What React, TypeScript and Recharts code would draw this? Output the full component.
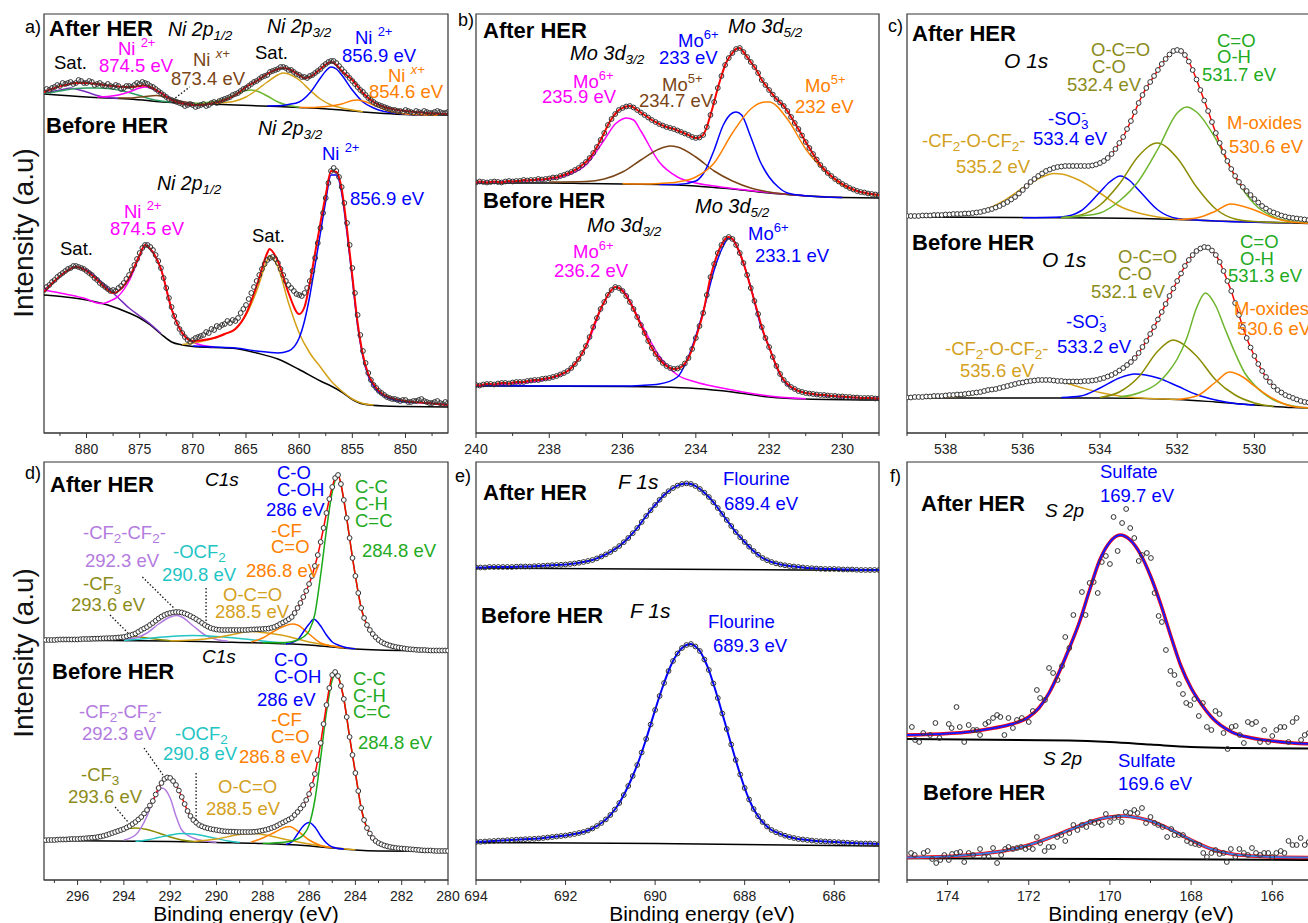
import React from 'react';
import { ComposedChart, Line, XAxis, YAxis, ReferenceArea, ReferenceLine } from 'recharts';

const FONT = '"Liberation Sans", Arial, Helvetica, sans-serif';
const RED = '#ff0000', BLUE = '#0000ff', MAG = '#ff00ff', BROWN = '#7a4516', GOLD = '#d4a017', ORANGE = '#ff8000',
  OLIVE = '#8b8b00', GREEN = '#1aaa1a', LGREEN = '#6db52c', TEAL = '#2e9e62', PURPLE = '#7a2ec0', LAV = '#b37be0',
  CYAN = '#22c4c4', BLACK = '#000000', GOLDL = '#d4a020', OLIVEL = '#8b8b1a', GREENL = '#22aa22';

type P = { x: number; y: number };
const pairs = (a: number[][]): P[] => a.map(([x, y]) => ({ x, y }));
const grid = (start: number, step: number, v: number[]): P[] =>
  v.map((y, i) => ({ x: Math.round((start + i * step) * 1000) / 1000, y }));

// ---------------- Panel a : Ni 2p (measured points every 0.25 eV from 884 eV) ----------------
const aTicks = [847.5, 850, 852.5, 855, 857.5, 860, 862.5, 865, 867.5, 870, 872.5, 875, 877.5, 880, 882.5];
const aMajors = [850, 855, 860, 865, 870, 875, 880];
const aAftObs = [
  341, 344, 343, 345, 346, 348, 347, 350, 349, 350,
  351, 349, 350, 353, 352, 350, 350, 352, 351, 348,
  349, 350, 348, 347, 349, 347, 346, 348, 347, 344,
  345, 347, 347, 346, 348, 350, 349, 351, 350, 349,
  347, 346, 344, 342, 340, 338, 336, 334, 333, 332,
  331, 330, 329, 327, 328, 329, 328, 326, 327, 328,
  329, 327, 328, 330, 331, 330, 332, 333, 334, 335,
  336, 338, 339, 340, 342, 344, 345, 347, 349, 351,
  352, 354, 356, 357, 358, 361, 362, 363, 364, 366,
  366, 365, 363, 363, 361, 359, 358, 356, 356, 355,
  357, 358, 360, 362, 364, 367, 369, 371, 372, 372,
  370, 367, 364, 361, 358, 355, 352, 349, 346, 343,
  341, 338, 335, 333, 331, 329, 328, 327, 326, 325,
  324, 323, 323, 322, 322, 321, 323, 322, 321, 320,
  322, 321, 320, 322, 321, 320, 320, 321, 322, 321,
  320, 320, 321];
const aBefObs = [
  143, 146, 148, 151, 153, 156, 158, 160, 162, 164,
  165, 167, 167, 166, 165, 164, 162, 160, 158, 155,
  153, 150, 148, 146, 144, 142, 143, 142, 145, 147,
  150, 154, 158, 163, 168, 174, 180, 185, 188, 188,
  186, 183, 178, 172, 165, 155, 145, 135, 126, 117,
  110, 104, 100, 96, 93, 91, 93, 95, 96, 97,
  98, 101, 100, 104, 103, 107, 106, 108, 109, 112,
  110, 113, 112, 115, 120, 124, 128, 134, 140, 146,
  152, 158, 164, 169, 173, 175, 176, 174, 170, 164,
  158, 152, 148, 145, 142, 139, 138, 137, 140, 145,
  152, 162, 175, 190, 205, 220, 235, 250, 262, 265,
  262, 256, 246, 230, 210, 188, 165, 140, 118, 98,
  82, 70, 60, 53, 48, 45, 42, 40, 38, 36,
  35, 34, 34, 33, 32, 33, 33, 31, 31, 32,
  32, 33, 34, 32, 31, 30, 30, 31, 32, 30,
  29, 31, 30];
const aAftRed = [[884, 341], [883, 345], [882, 348], [881, 350], [880, 350], [879, 349], [878, 347.5], [877, 346.5], [876, 346], [875, 347], [874.5, 347.5], [874, 346], [873, 340], [872, 333], [871, 329.5], [870, 328], [869, 328], [868, 330], [867, 333], [866, 338], [865, 346], [864, 352], [863, 359], [862, 364], [861.5, 365], [861, 364], [860, 358], [859.5, 355], [859, 356], [858, 364], [857, 371], [856.5, 368], [856, 362], [855, 353], [854, 340], [853, 331], [852, 326], [851, 323.5], [850, 322], [849, 321], [848, 320], [847, 319.5], [846, 319]];
const aAftBg = [[884, 339], [880, 336], [876, 334], [872, 330.5], [870, 329.5], [866, 328], [862, 326.5], [860, 325.5], [858, 324.5], [856, 323], [854, 321], [852, 319.5], [850, 318.5], [846, 318]];
const aAftPurple = [[884, 339.5], [883, 342], [882, 344], [881.5, 345], [881, 344], [880, 341], [879, 337.5], [878, 335.5], [877, 334.8]];
const aAftGreen1 = [[884, 339.5], [883, 341], [882, 343], [881, 344.5], [880, 345], [879, 345], [878, 344.5], [877, 343], [876, 340.5], [875, 337.5], [874, 334], [873, 332], [872, 330.8]];
const aAftMag = [[879, 336], [878, 336.5], [877, 338], [876, 341], [875, 345], [874.5, 346], [874, 345], [873, 340], [872, 334], [871, 331], [870, 329.8]];
const aAftBrown = [[877, 335], [876, 335], [875, 336], [874, 337], [873.4, 337.5], [873, 337], [872, 334], [871, 331.5], [870, 329.8]];
const aAftGreen2 = [[870, 329.5], [869, 330], [868, 331.5], [867, 334], [866, 338.5], [865, 342.5], [864.5, 343], [864, 342], [863, 337], [862, 331], [861, 327.5], [860, 325.8]];
const aAftGold = [[869, 329.2], [868, 329.5], [867, 330.5], [866, 332], [865, 336], [864, 343], [863, 351], [862, 358], [861.5, 360], [861, 359], [860, 353], [859, 343], [858, 334], [857, 328], [856, 325], [855, 323], [854, 321.2]];
const aAftBlue = [[863, 327], [862, 327.2], [861, 328.5], [860, 331], [859, 340], [858, 355], [857.5, 362], [857, 366], [856.5, 364], [856, 358], [855, 343], [854, 331], [853, 325], [852, 321.5], [851, 320], [850, 318.8], [848, 318.3]];
const aAftOrange = [[860, 325.5], [859, 325.5], [858, 326], [857, 327], [856, 329], [855, 332.5], [854.5, 333], [854, 332], [853, 328], [852, 323.5], [851, 320.5], [850, 319], [849, 318.5], [847, 318]];
const aAftLeader = [[871.9, 333], [870.3, 346]];
const aBefRed = [[884, 141], [883, 152], [882, 161], [881, 166], [880, 162], [879, 153], [878, 143], [877.5, 140], [877, 142], [876, 155], [875, 178], [874.5, 188], [874, 184], [873, 164], [872, 124], [871, 100], [870, 92], [869, 93], [868, 95], [867, 99], [866, 104], [865, 119], [864, 147], [863, 180], [862.8, 184], [862, 172], [861, 140], [860, 119], [859.5, 126], [859, 150], [858.5, 180], [858, 210], [857.5, 238], [857, 262], [856.5, 261], [856, 244], [855.5, 204], [855, 157], [854.5, 110], [854, 78], [853.5, 59], [853, 49], [852, 38], [850, 32], [848, 30], [846, 28]];
const aBefBg = [[884, 138], [882, 136], [880, 133], [878, 128], [876, 120], [875, 115], [874, 108], [873, 99], [872, 91], [871, 88], [870, 86.5], [868, 85.5], [866, 84.5], [864, 80], [862, 74], [860, 63.5], [858, 52], [857, 47], [856, 41], [855, 33.5], [854, 29], [852, 27], [850, 26.5], [846, 26]];
const aBefPurple = [[884, 143], [883, 152], [882, 161], [881, 166], [880, 163], [879, 155], [878, 145], [877, 135], [876, 125], [875, 117], [874, 109], [873, 99.5]];
const aBefMag = [[884, 143], [882, 139], [880, 134], [879, 130], [878.5, 129.5], [878, 131], [877, 137], [876, 152], [875, 177], [874.5, 188], [874, 184], [873, 164], [872, 124], [871, 100], [870, 91], [869, 87.5], [868, 86]];
const aBefGold = [[871, 88.5], [870, 90], [869, 92], [868, 95], [867, 99], [866, 104], [865, 118], [864, 142], [863, 173], [862.8, 177], [862, 166], [861, 130], [860, 100], [859, 80], [858, 66], [857, 52], [856, 42], [855, 34], [854, 29.5], [853, 28]];
const aBefBlue = [[870, 87], [868, 86], [866, 85], [864, 82], [862, 80], [861, 82], [860, 95], [859.5, 112], [859, 137], [858.5, 168], [858, 200], [857.5, 232], [857, 258], [856.5, 258], [856, 240], [855.5, 200], [855, 154], [854.5, 107], [854, 76], [853.5, 57], [853, 47], [852, 37], [850, 31], [848, 30], [846, 28]];

// ---------------- Panel b : Mo 3d (measured points every 0.1 eV from 240 eV) ----------------
const bTicks = [229, 230, 231, 232, 233, 234, 235, 236, 237, 238, 239, 240];
const bMajors = [230, 232, 234, 236, 238, 240];
const bAftObs = [
  250.5, 251.5, 251, 250.5, 251, 251.5, 251, 250.5, 251.5, 252,
  251.5, 252, 252, 253, 252.5, 253, 253, 254, 253.5, 254,
  254.5, 255.5, 255.5, 257, 258, 259.5, 261, 263, 265, 268,
  271, 275, 280, 286, 293, 300, 308, 314, 319, 323,
  325, 326.5, 327, 325.5, 323, 320.5, 318, 315.5, 313, 311,
  309, 307.5, 306, 305, 304, 302.5, 301, 299.5, 298, 296,
  295, 295.5, 298, 306, 318, 331, 345, 357, 368, 375,
  380, 384, 385, 381, 376, 371, 366, 360, 353, 348,
  343, 338.5, 334, 330.5, 327, 322, 316, 310, 304, 297.5,
  291, 285, 279, 273.5, 268, 264, 260, 257, 254, 251.5,
  249, 247, 245, 243.5, 242, 241, 240.5, 239.5, 239, 238.5,
  238];
const bBefObs = [
  48, 47.5, 48.5, 49, 49, 48.5, 49.5, 50, 50, 49.5,
  50.5, 51, 51, 51, 52, 52.5, 53, 53, 54, 54.5,
  55, 56, 57, 58.5, 60, 62, 65, 69, 74, 80,
  87, 96, 106, 115, 124, 131, 138, 143, 146, 145,
  142, 137, 131, 124, 116, 108, 100, 92, 85, 79,
  74, 70, 67, 65, 64, 64.5, 66, 69.5, 75, 84,
  95, 107, 120, 138, 156, 169, 180, 188, 194, 196,
  194, 188, 180, 170, 158, 145, 132, 119, 106, 95,
  86, 76, 67, 59, 53, 49, 46, 44, 42, 41,
  40, 39.5, 39, 38.5, 38, 38, 37.5, 37, 37, 36.5,
  36.5, 36, 36, 35.5, 35.5, 35, 35, 35, 35, 34.5,
  34.5];
const bAftBg = [[240, 250], [238, 250], [237, 249.5], [236, 249], [235, 248.5], [234.5, 248], [234, 247], [233.5, 245.5], [233, 244], [232.5, 242], [232, 240], [231.5, 238.5], [231, 237], [230.5, 236], [230, 235.5], [229, 235]];
const bAftMag = [[240, 250.5], [239, 251.5], [238.5, 252.5], [238, 254], [237.5, 258], [237, 268], [236.5, 293], [236.2, 309], [236, 314], [235.9, 315], [235.7, 313], [235.5, 302], [235, 271], [234.5, 256], [234, 250], [233.5, 247], [233, 244.5], [232, 240.5], [231, 237.2]];
const bAftBrown = [[238, 251], [237, 251.5], [236.5, 254], [236, 261], [235.5, 273], [235, 284], [234.7, 287], [234.5, 286], [234, 276], [233.5, 262], [233, 252], [232.5, 245], [232, 241], [231, 237.2], [230, 235.6]];
const bAftBlue = [[235, 248.6], [234.5, 248.5], [234, 252], [233.75, 262], [233.5, 283], [233.25, 308], [233, 320], [232.9, 321], [232.75, 318], [232.5, 296], [232.25, 272], [232, 256], [231.75, 246], [231.5, 240], [231, 237.3], [230, 235.6]];
const bAftOrange = [[236, 249.2], [235.5, 249], [235, 249.5], [234.5, 251], [234, 256], [233.5, 270], [233, 300], [232.5, 324], [232.1, 331], [232, 331], [231.5, 314], [231, 284], [230.5, 263], [230, 248], [229.5, 241], [229, 237.5]];
const bBefBg = [[240, 47], [236, 46.5], [235, 46], [234, 44.5], [233, 41], [232, 36], [231, 34], [229, 33]];
const bBefMag = [[240, 47.5], [239, 49.5], [238.5, 51], [238, 54.5], [237.5, 62], [237, 86], [236.5, 131], [236.2, 146], [236, 143], [235.5, 110], [235, 77], [234.5, 58], [234, 51], [233.5, 46.5], [233, 43], [232, 37], [231, 34.2]];
const bBefBlue = [[240, 47.2], [236, 47], [235.5, 47.5], [235, 49], [234.5, 56], [234.25, 72], [234, 97], [233.75, 128], [233.5, 163], [233.25, 187], [233.1, 195], [233, 194], [232.75, 175], [232.5, 146], [232.25, 110], [232, 86], [231.75, 62], [231.5, 48], [231, 40], [230, 36], [229, 34.5]];

// ---------------- Panel c : O 1s (measured points every 0.1 eV from 539 eV) ----------------
const cTicks = [529, 530, 531, 532, 533, 534, 535, 536, 537, 538, 539];
const cMajors = [530, 532, 534, 536, 538];
const cAftObs = [
  217, 217, 217, 217, 217.5, 217.5, 217.5, 218, 218, 218,
  218.5, 218.5, 219, 219, 219, 219.5, 219.5, 220, 220.5, 221,
  222, 223, 224, 225.5, 227, 229, 231, 233.5, 236, 239.5,
  243, 247, 251, 254, 257, 259.5, 262, 263.5, 265, 266,
  266.5, 267, 267, 267, 267, 267, 267, 267, 267.5, 268.5,
  270, 272, 275, 279, 284, 290, 296, 304, 312, 321,
  330, 338, 345, 351, 357, 363, 369, 374, 378.5, 382,
  383, 382, 378, 371.5, 363, 353.5, 343, 332.5, 322, 311,
  300, 290, 281, 272, 264, 257, 251, 246, 242, 238,
  234, 230.5, 227, 224.5, 222, 220.5, 219, 217.5, 216.5, 215.5,
  215, 214.5, 214, 213.5, 213];
const cBefObs = [
  35.5, 35.5, 36, 36, 36, 36.5, 36.5, 37, 37, 37,
  37.5, 38, 38, 38.5, 38.5, 39, 39.5, 40, 40.5, 41,
  42, 43, 43.5, 44, 45, 46, 47, 48, 49, 50,
  50.5, 51.5, 52, 52.5, 53, 53, 53, 53, 52.5, 52,
  52, 51.5, 51.5, 51.5, 51.5, 51.5, 52, 52, 52.5, 53,
  54, 55, 56.5, 58, 60, 62.5, 65, 68, 71, 75,
  80, 86, 92, 99, 106, 113.5, 121, 129, 137, 144.5,
  152, 159.5, 167, 173, 178, 182, 184.5, 186, 185.5, 182.5,
  178, 171, 162, 152, 142, 130, 118, 106, 95, 85.5,
  77, 69, 62, 56, 51, 46.5, 43, 40.5, 38, 36.5,
  35, 33.5, 32, 31, 30.5];
const cAftBg = [[539, 216], [534, 215], [532, 213.5], [531, 212], [529, 210], [528.5, 209.5]];
const cAftGold = [[539, 216.5], [538, 217.5], [537.5, 219.5], [537, 223], [536.5, 232], [536, 245], [535.5, 256], [535.2, 259.5], [535, 259], [534.5, 252], [534, 240], [533.5, 227], [533, 220], [532.5, 216], [532, 214], [531, 212.2], [529, 210.1]];
const cAftBlue = [[536, 215.2], [535, 216], [534.5, 222], [534, 241], [533.75, 251], [533.47, 257], [533.25, 253], [533, 243], [532.5, 223], [532, 214.5], [531.5, 213], [531, 212.1], [529, 210.1]];
const cAftOlive = [[535, 215.3], [534.5, 218], [534, 228], [533.5, 249], [533, 277], [532.52, 290], [532, 275], [531.5, 246], [531, 224], [530.5, 214], [530, 211.5], [529, 210.2]];
const cAftGreen = [[535, 215.5], [534.5, 217], [534, 220], [533.5, 232], [533, 252], [532.5, 284], [532, 320], [531.75, 326], [531.5, 321], [531, 294], [530.5, 256], [530, 229], [529.5, 216], [529, 211.5], [528.5, 210]];
const cAftOrange = [[532, 213.5], [531.5, 215], [531, 222], [530.62, 229], [530, 223], [529.5, 215], [529, 210.8], [528.5, 209.7]];
const cBefBg = [[539, 35], [534, 35], [532, 33.5], [531, 31], [530, 28], [529, 25.5], [528.5, 25]];
const cBefGold = [[539, 35.2], [538, 36], [537.5, 37.5], [537, 41], [536.5, 46], [536, 51], [535.6, 53], [535, 51], [534.5, 45.5], [534, 40.5], [533.5, 37], [533, 35.2], [532, 33.6]];
const cBefBlue = [[535, 35.5], [534.5, 37], [534, 45], [533.5, 55], [533.1, 59], [532.5, 55], [532, 47], [531.5, 38.5], [531, 33], [530.5, 29.5], [530, 28]];
const cBefOlive = [[534, 35.5], [533.5, 41], [533, 56], [532.5, 82], [532.1, 93], [532, 92], [531.5, 77], [531, 53], [530.5, 38], [530, 30], [529.5, 26.5]];
const cBefGreen = [[533.5, 36], [533, 40], [532.5, 50], [532.25, 60], [532, 74], [531.75, 95], [531.5, 125], [531.27, 140], [531, 127], [530.75, 103], [530.5, 80], [530.25, 60], [530, 48], [529.5, 33], [529, 27], [528.5, 25]];
const cBefOrange = [[532, 33.5], [531.5, 37], [531, 51], [530.65, 61], [530.3, 56], [530, 47], [529.5, 34], [529, 26.5], [528.5, 25]];

// ---------------- Panel d : C 1s (measured points every 0.125 eV from 297.5 eV) ----------------
const dTicks = [280, 281, 282, 283, 284, 285, 286, 287, 288, 289, 290, 291, 292, 293, 294, 295, 296, 297];
const dMajors = [280, 282, 284, 286, 288, 290, 292, 294, 296];
const dAftObs = [
  240, 240, 240, 240, 240, 240.3, 240.5, 240.5,
  240.5, 240.5, 240.5, 240.5, 240.5, 240.8, 241, 241,
  241, 241.2, 241.3, 241.4, 241.5, 241.7, 241.8, 241.9,
  242, 242.2, 242.5, 242.7, 243, 243.7, 244.5, 245.4,
  246.5, 248.2, 250, 251.5, 253, 255, 257, 259.3,
  261.5, 263.4, 265, 266.2, 267, 267.6, 268, 267.9,
  267.5, 266.6, 265.5, 264, 262.5, 260.8, 259, 257,
  255, 253.4, 252, 251.2, 250.5, 250.2, 250, 250,
  250, 250, 250, 250, 250, 250, 250, 250.2,
  250.5, 250.6, 250.7, 250.8, 251, 251.2, 251.5, 252.2,
  253, 254.4, 256, 257.5, 259, 260.8, 263, 267,
  272, 277, 283, 289, 296, 304, 314, 325,
  338, 352, 367, 381, 393, 402, 405, 396,
  380, 362, 342, 322, 304, 287, 272, 262,
  255, 250, 246, 242.8, 240, 238, 236.5, 235.4,
  234.5, 233.7, 233, 232.5, 232, 231.5, 231, 230.7,
  230.5, 230.2, 230, 230, 230, 229.7, 229.5, 229.5,
  229.5, 229.5, 229.5, 229.5,
  229.5];
const dBefObs = [
  39.5, 39.8, 40, 40, 40, 40.3, 40.5, 40.5,
  40.5, 40.8, 41, 41, 41, 41.3, 41.5, 41.8,
  42, 42.2, 42.5, 43, 43.5, 44.2, 45, 46,
  47, 48, 49, 50, 51, 52.5, 54, 56,
  58, 60.5, 63, 66.5, 70, 74.5, 79, 85.5,
  92, 97, 101, 102.5, 102, 99, 95, 89.5,
  83, 76, 69, 64, 60, 57.3, 55, 53.7,
  52.5, 51.7, 51, 50.5, 50, 49.5, 49, 48.7,
  48.5, 48.4, 48.3, 48.1, 48, 48, 48, 48,
  48, 48.2, 48.5, 49, 49.5, 50.2, 51, 52,
  53, 54.5, 56, 57.5, 59, 60.5, 62, 65,
  68, 71.5, 75, 80, 86, 95, 106, 120,
  137, 156, 175, 192, 205, 208, 204, 194,
  181, 163, 143, 125, 107, 89, 72, 60,
  52, 46.5, 42, 39, 37, 35.7, 34.5, 33.7,
  33, 32.5, 32, 31.7, 31.5, 31.2, 31, 30.7,
  30.5, 30.2, 30, 29.7, 29.5, 29.5, 29.5, 29.2,
  29, 29, 29, 29,
  29];
const dAftBg = [[297.5, 240], [292, 239], [290, 238], [288, 237], [286, 235], [285, 233], [284, 231], [283, 230], [280, 229]];
const dAftOlive = [[297, 240.3], [296, 240.8], [295, 241.8], [294.5, 243], [294, 244], [293.5, 243.5], [293, 242], [292.5, 240.5], [292, 239.3]];
const dAftPurple = [[294, 240.5], [293.5, 242], [293, 247], [292.5, 256], [292, 263], [291.7, 264.5], [291.5, 263], [291, 254], [290.5, 245], [290, 240.5], [289.5, 238.8]];
const dAftCyan = [[294, 239.5], [293, 241.5], [292, 243.5], [291, 244.5], [290, 243.5], [289, 241.5], [288, 239], [287, 237]];
const dAftGold = [[292, 239.2], [291, 240], [290, 242.5], [289, 247], [288.75, 248.3], [288.5, 248.5], [288, 247.5], [287, 244], [286.5, 241], [286, 238], [285, 234], [284, 231.2]];
const dAftOrange = [[288.5, 238], [288, 242], [287.5, 249], [287, 254.5], [286.7, 256], [286.5, 255], [286, 246], [285.5, 237], [285, 234], [284.5, 232]];
const dAftBlue = [[287, 236], [286.5, 240], [286.25, 248], [286, 256], [285.8, 260.7], [285.5, 254], [285.25, 245], [285, 238], [284.75, 235], [284.5, 233], [284, 231.2]];
const dAftGreen = [[288, 237.2], [287, 237.5], [286.5, 240], [286.25, 243], [286, 249], [285.75, 266], [285.5, 305], [285.25, 350], [285, 388], [284.75, 404], [284.5, 380], [284.25, 342], [284, 304], [283.75, 272], [283.5, 255], [283.25, 246], [283, 240], [282.5, 234.5], [282, 232], [281, 230], [280, 229.5]];
const dBefBg = [[297.5, 39.5], [292, 38.5], [290, 37.5], [288, 36.5], [286.5, 35], [285.5, 33], [285, 32], [284, 30], [283, 29], [280, 28.5]];
const dBefOlive = [[297, 40], [296, 41], [295, 43.5], [294.5, 47], [294, 50.5], [293.5, 52], [293, 50.5], [292.5, 47], [292, 43], [291.5, 40], [291, 38.5]];
const dBefPurple = [[294, 40], [293.5, 45], [293, 64], [292.75, 79], [292.5, 89], [292.35, 92], [292, 82], [291.75, 64], [291.5, 50], [291, 42], [290.5, 39], [290, 37.8]];
const dBefCyan = [[293.5, 38.6], [293, 40], [292.5, 42.5], [292, 45], [291.5, 46.5], [291, 46], [290.5, 44], [290, 41.5], [289.5, 39], [289, 37.5]];
const dBefGold = [[291, 38.5], [290, 41], [289, 45.5], [288.5, 46.5], [288, 45.5], [287, 40.5], [286, 36], [285, 32.5], [284, 30.2]];
const dBefOrange = [[288.5, 38], [288, 42], [287.5, 47.5], [287, 53], [286.85, 53.5], [286.5, 49], [286, 40], [285.5, 34.5], [285, 32.2]];
const dBefBlue = [[287, 35.5], [286.75, 38], [286.5, 46], [286.25, 54], [286, 57.5], [285.75, 53], [285.5, 44], [285.25, 37], [285, 33], [284.5, 31]];
const dBefGreen = [[288, 36.6], [287, 38], [286.5, 41], [286.25, 45], [286, 55], [285.75, 80], [285.5, 122], [285.25, 168], [285, 200], [284.9, 205], [284.75, 203], [284.5, 181], [284.25, 143], [284, 107], [283.75, 72], [283.5, 52], [283.25, 42], [283, 37], [282.5, 33], [282, 31], [281, 29.5], [280, 28.5]];
const dLeaders = [
  [[293.2, 303], [291.8, 271]], [[290.45, 292], [290.45, 253]], [[294.6, 265], [293.82, 247]],
  [[293.13, 132], [292.31, 105]], [[290.88, 107], [290.88, 58]], [[294.38, 73], [293.78, 57]],
];

// ---------------- Panel e : F 1s (measured points every 0.1 eV from 694 eV) ----------------
const eTicks = [685, 686, 687, 688, 689, 690, 691, 692, 693, 694];
const eMajors = [686, 688, 690, 692, 694];
const eAftObs = [
  312.5, 312.5, 312.5, 313, 313, 313, 313, 313, 313, 313.3,
  313.5, 313.5, 313.5, 313.8, 314, 314.2, 314.5, 314.8, 315, 315.2,
  315.5, 316, 316.5, 317.2, 318, 319, 320, 321.6, 323.5, 325.6,
  328, 330.8, 334, 337.8, 342, 346.8, 352, 358, 364, 369.7,
  375, 380.2, 385, 388.8, 392, 394.4, 396, 396.6, 396, 394,
  391, 387.3, 383, 377.8, 372, 366, 360, 354, 348, 342.8,
  338, 333.3, 329, 325.3, 322, 319.8, 318, 316.6, 315.5, 314.7,
  314, 313.5, 313, 312.5, 312, 311.8, 311.5, 311.2, 311, 311,
  311, 310.8, 310.5, 310.5, 310.5, 310.2, 310, 310, 310, 310,
  310];
const eBefObs = [
  38, 38.2, 38.5, 38.8, 39, 39.3, 39.5, 39.8, 40, 40.3,
  40.5, 40.8, 41, 41.2, 41.5, 42, 42.5, 43, 43.5, 44,
  44.5, 45.2, 46, 47, 48, 49.5, 51.5, 54, 57, 60.6,
  65, 70.5, 77, 85, 94, 104, 115, 127.5, 141, 155.5,
  170, 184, 197, 209, 219, 226.5, 232, 235, 236, 233.5,
  229, 220.5, 210, 196.5, 182, 166.5, 151, 135.5, 120, 105.5,
  92, 80.5, 71, 63.8, 58, 53.5, 50, 47.8, 46, 44.3,
  43, 42, 41, 40.5, 40, 39.5, 39, 38.8, 38.5, 38.2,
  38, 37.8, 37.5, 37.2, 37, 36.8, 36.5, 36.5, 36.5, 36.2,
  36];
const eAftBg = [[694, 312], [685, 309.5]];
const eBefBg = [[694, 37.5], [690, 36.5], [685, 34]];

// ---------------- Panel f : S 2p ----------------
const fTicks = [166, 167, 168, 169, 170, 171, 172, 173, 174, 175];
const fMajors = [166, 168, 170, 172, 174];
const fAftObs = [[174.88, 153], [174.8, 140], [174.7, 138], [174.6, 147], [174.43, 145], [174.3, 157], [174.2, 142], [173.97, 156], [173.9, 152], [173.78, 173], [173.7, 153], [173.59, 138], [173.48, 155], [173.37, 150], [173.28, 150], [173.2, 145], [173.07, 156], [172.99, 158], [172.88, 162], [172.78, 165], [172.7, 163], [172.6, 145], [172.5, 162], [172.39, 152], [172.29, 160], [172.17, 162], [172.0, 158], [171.9, 169], [171.8, 190], [171.72, 182], [171.6, 180], [171.5, 212], [171.4, 207], [171.29, 200], [171.18, 214], [171.1, 243], [171.0, 232], [170.9, 265], [170.69, 288], [170.6, 265], [170.5, 297], [170.4, 298], [170.3, 287], [170.2, 318], [170.1, 324], [170.0, 316], [169.91, 363], [169.81, 329], [169.7, 357], [169.6, 371], [169.5, 352], [169.4, 342], [169.29, 319], [169.21, 325], [169.09, 327], [168.99, 322], [168.9, 287], [168.8, 264], [168.72, 258], [168.62, 230], [168.51, 209], [168.41, 205], [168.3, 196], [168.2, 186], [168.12, 177], [168.02, 175], [167.92, 181], [167.81, 164], [167.71, 177], [167.61, 153], [167.5, 150], [167.4, 169], [167.3, 166], [167.2, 147], [167.1, 131], [167.0, 153], [166.9, 154], [166.8, 145], [166.7, 137], [166.6, 158], [166.5, 156], [166.4, 158], [166.3, 138], [166.2, 150], [166.1, 138], [166.0, 144], [165.9, 150], [165.8, 153], [165.7, 153], [165.6, 138], [165.5, 158], [165.4, 162], [165.29, 140], [165.2, 145], [165.1, 147]];
const fBefObs = [[174.9, 27], [174.81, 25], [174.59, 27], [174.49, 29], [174.38, 21], [174.28, 17], [174.18, 20], [174.08, 25], [173.97, 20], [173.89, 26], [173.78, 27], [173.69, 28], [173.59, 18], [173.48, 27], [173.37, 25], [173.2, 31], [173.1, 23], [172.99, 23], [172.88, 32], [172.78, 17], [172.68, 25], [172.58, 31], [172.5, 33], [172.39, 31], [172.29, 32], [172.19, 33], [172.08, 31], [172.0, 33], [171.9, 31], [171.8, 43], [171.72, 37], [171.61, 29], [171.51, 33], [171.4, 33], [171.3, 43], [171.2, 45], [171.1, 39], [171.0, 47], [170.9, 55], [170.8, 50], [170.69, 55], [170.58, 53], [170.48, 58], [170.38, 57], [170.28, 58], [170.2, 55], [170.1, 66], [170.0, 58], [169.89, 62], [169.79, 63], [169.71, 58], [169.61, 68], [169.5, 67], [169.4, 70], [169.32, 67], [169.21, 72], [169.11, 57], [169.0, 63], [168.9, 57], [168.81, 55], [168.7, 53], [168.59, 43], [168.49, 51], [168.41, 45], [168.3, 45], [168.2, 45], [168.1, 39], [168.0, 37], [167.9, 36], [167.8, 35], [167.7, 27], [167.61, 23], [167.5, 27], [167.4, 30], [167.3, 26], [167.2, 27], [167.12, 18], [167.02, 31], [166.91, 23], [166.81, 31], [166.7, 27], [166.6, 25], [166.5, 32], [166.4, 27], [166.3, 25], [166.2, 27], [166.1, 27], [166.0, 23], [165.9, 27], [165.79, 29], [165.7, 27], [165.6, 39], [165.5, 35], [165.4, 35], [165.3, 42], [165.2, 35], [165.1, 38]];
const fAftFit = [[175, 145], [174, 146.5], [173.5, 148], [173, 151], [172.5, 155], [172, 163], [171.75, 172], [171.5, 187], [171.25, 208], [171, 232], [170.75, 258], [170.5, 290], [170.25, 320], [170, 338], [169.75, 345], [169.5, 340], [169.25, 326], [169, 304], [168.75, 276], [168.5, 244], [168.25, 214], [168, 192], [167.75, 176], [167.5, 163], [167, 148], [166.5, 142], [166, 139], [165.5, 137], [165, 136]];
const fAftBg = [[175, 141], [171, 139.5], [170, 138], [169, 135.5], [168, 133], [167, 132], [165, 131.5]];
const fBefFit = [[175, 22.5], [174, 23.5], [173.5, 25], [173, 27], [172.5, 30], [172, 35], [171.5, 42], [171, 50], [170.5, 58], [170, 63], [169.65, 64], [169.5, 63.5], [169, 59], [168.5, 50.5], [168, 40], [167.5, 31], [167, 26], [166.5, 24], [166, 23], [165, 22.5]];
const fBefBg = [[175, 21.7], [170, 21], [165, 20]];

// ---------------- helpers ----------------
const ln = (key: string, data: P[], stroke: string, w = 1.5) => (
  <Line key={key} data={data} dataKey="y" type="monotone" stroke={stroke} strokeWidth={w} dot={false}
    activeDot={false} isAnimationActive={false} />
);
const pts = (key: string, data: P[], fill = 'none') => (
  <Line key={key} data={data} dataKey="y" stroke="none" activeDot={false} isAnimationActive={false}
    dot={{ r: 2.4, stroke: '#333', strokeWidth: 1, fill }} />
);
const leader = (key: string, s: number[][]) => (
  <ReferenceLine key={key} segment={[{ x: s[0][0], y: s[0][1] }, { x: s[1][0], y: s[1][1] }]}
    stroke="#111" strokeWidth={1.3} strokeDasharray="1.5 2" ifOverflow="visible" />
);

const MX = 20, MT = 3;
function Panel({ left, top, w, h, dom, ticks, majors, children }: any) {
  const Tick = (props: any) => {
    const { x, payload } = props;
    const v = payload.value;
    const maj = majors.includes(v);
    const y0 = MT + h;
    return (
      <g>
        <line x1={x} x2={x} y1={y0} y2={y0 + (maj ? 5 : 3)} stroke="#333" strokeWidth={1} />
        {maj && <text x={x} y={y0 + 21} textAnchor="middle" fontSize={14} fill="#222" fontFamily={FONT}>{v}</text>}
      </g>
    );
  };
  return (
    <div style={{ position: 'absolute', left: left - MX, top: top - MT }}>
      <ComposedChart width={w + 2 * MX} height={h + MT + 34} margin={{ top: MT, right: MX, bottom: 0, left: MX }}>
        <XAxis type="number" dataKey="x" domain={dom} reversed allowDataOverflow ticks={ticks} interval={0}
          height={34} tick={Tick} tickLine={false} axisLine={{ stroke: '#333', strokeWidth: 1.2 }} />
        <YAxis type="number" domain={[0, h]} hide allowDataOverflow />
        <ReferenceArea x1={dom[0]} x2={dom[1]} y1={0} y2={h} fill="none" stroke="#333" strokeWidth={1.2} ifOverflow="visible" />
        {children}
      </ComposedChart>
    </div>
  );
}

function T({ x, y, c = BLACK, s = 18.5, b = false, i = false, a = 'start', children }: any) {
  return (
    <text x={x} y={y} fill={c} fontSize={s} fontWeight={b ? 700 : 400} fontStyle={i ? 'italic' : 'normal'}
      textAnchor={a} fontFamily={FONT}>{children}</text>
  );
}
const sup = (t: string, it = false) => <tspan dy={-8} fontSize={13} fontStyle={it ? 'italic' : undefined}>{t}</tspan>;
const sub = (t: string) => <tspan dy={4} fontSize={13.5}>{t}</tspan>;

export default function App() {
  return (
    <div style={{ position: 'absolute', left: 0, top: 0, width: 1308, height: 923, overflow: 'hidden', background: '#fff' }}>
      {/* a */}
      <Panel left={44} top={14} w={404} h={419} dom={[846, 884]} ticks={aTicks} majors={aMajors}>
        {[
          pts('aao', grid(884, -0.25, aAftObs)),
          pts('abo', grid(884, -0.25, aBefObs)),
          ln('aab', pairs(aAftBg), BLACK),
          ln('aap', pairs(aAftPurple), PURPLE),
          ln('aag1', pairs(aAftGreen1), TEAL),
          ln('aam', pairs(aAftMag), MAG),
          ln('aabr', pairs(aAftBrown), BROWN),
          ln('aag2', pairs(aAftGreen2), LGREEN),
          ln('aagd', pairs(aAftGold), GOLD),
          ln('aabl', pairs(aAftBlue), BLUE),
          ln('aaor', pairs(aAftOrange), ORANGE),
          ln('aar', pairs(aAftRed), RED, 2),
          leader('aal', aAftLeader),
          ln('abb', pairs(aBefBg), BLACK),
          ln('abp', pairs(aBefPurple), PURPLE),
          ln('abm', pairs(aBefMag), MAG),
          ln('abgd', pairs(aBefGold), GOLD),
          ln('abbl', pairs(aBefBlue), BLUE),
          ln('abr', pairs(aBefRed), RED, 2),
        ]}
      </Panel>
      {/* b */}
      <Panel left={476} top={14} w={403} h={419} dom={[229, 240]} ticks={bTicks} majors={bMajors}>
        {[
          pts('bao', grid(240, -0.1, bAftObs)),
          pts('bbo', grid(240, -0.1, bBefObs)),
          ln('bab', pairs(bAftBg), BLACK),
          ln('bam', pairs(bAftMag), MAG),
          ln('babr', pairs(bAftBrown), BROWN),
          ln('babl', pairs(bAftBlue), BLUE),
          ln('baor', pairs(bAftOrange), ORANGE),
          ln('bar', grid(240, -0.1, bAftObs), RED, 2),
          ln('bbb', pairs(bBefBg), BLACK),
          ln('bbm', pairs(bBefMag), MAG),
          ln('bbbl', pairs(bBefBlue), BLUE),
          ln('bbr', grid(240, -0.1, bBefObs), RED, 2),
        ]}
      </Panel>
      {/* c */}
      <Panel left={907} top={14} w={403} h={419} dom={[528.56, 539]} ticks={cTicks} majors={cMajors}>
        {[
          ln('cab', pairs(cAftBg), BLACK),
          ln('cag', pairs(cAftGold), GOLD),
          ln('cabl', pairs(cAftBlue), BLUE),
          ln('caol', pairs(cAftOlive), OLIVE),
          ln('cagr', pairs(cAftGreen), LGREEN),
          ln('caor', pairs(cAftOrange), ORANGE),
          ln('car', grid(539, -0.1, cAftObs), RED, 1.5),
          pts('cao', grid(539, -0.1, cAftObs), '#fff'),
          ln('cbb', pairs(cBefBg), BLACK),
          ln('cbg', pairs(cBefGold), GOLD),
          ln('cbbl', pairs(cBefBlue), BLUE),
          ln('cbol', pairs(cBefOlive), OLIVE),
          ln('cbgr', pairs(cBefGreen), LGREEN),
          ln('cbor', pairs(cBefOrange), ORANGE),
          ln('cbr', grid(539, -0.1, cBefObs), RED, 1.5),
          pts('cbo', grid(539, -0.1, cBefObs), '#fff'),
        ]}
      </Panel>
      {/* d */}
      <Panel left={44} top={462} w={404} h={418} dom={[280, 297.45]} ticks={dTicks} majors={dMajors}>
        {[
          ln('dab', pairs(dAftBg), BLACK),
          ln('daol', pairs(dAftOlive), OLIVE),
          ln('dapu', pairs(dAftPurple), LAV),
          ln('dacy', pairs(dAftCyan), CYAN),
          ln('dagd', pairs(dAftGold), GOLD),
          ln('daor', pairs(dAftOrange), ORANGE),
          ln('dabl', pairs(dAftBlue), BLUE),
          ln('dagr', pairs(dAftGreen), GREEN),
          ln('dar', grid(297.5, -0.125, dAftObs), RED, 1.5),
          pts('dao', grid(297.5, -0.125, dAftObs), '#fff'),
          ln('dbb', pairs(dBefBg), BLACK),
          ln('dbol', pairs(dBefOlive), OLIVE),
          ln('dbpu', pairs(dBefPurple), LAV),
          ln('dbcy', pairs(dBefCyan), CYAN),
          ln('dbgd', pairs(dBefGold), GOLD),
          ln('dbor', pairs(dBefOrange), ORANGE),
          ln('dbbl', pairs(dBefBlue), BLUE),
          ln('dbgr', pairs(dBefGreen), GREEN),
          ln('dbr', grid(297.5, -0.125, dBefObs), RED, 1.5),
          pts('dbo', grid(297.5, -0.125, dBefObs), '#fff'),
          ...dLeaders.map((s, k) => leader('dl' + k, s)),
        ]}
      </Panel>
      {/* e */}
      <Panel left={476} top={462} w={403} h={418} dom={[685, 694]} ticks={eTicks} majors={eMajors}>
        {[
          pts('eao', grid(694, -0.1, eAftObs)),
          pts('ebo', grid(694, -0.1, eBefObs)),
          ln('eab', pairs(eAftBg), BLACK),
          ln('ebb', pairs(eBefBg), BLACK),
          ln('eaf', grid(694, -0.1, eAftObs), BLUE, 2),
          ln('ebf', grid(694, -0.1, eBefObs), BLUE, 2),
        ]}
      </Panel>
      {/* f */}
      <Panel left={907} top={462} w={403} h={418} dom={[165.07, 175]} ticks={fTicks} majors={fMajors}>
        {[
          ln('fab', pairs(fAftBg), BLACK, 2),
          ln('fbb', pairs(fBefBg), BLACK, 2),
          pts('fao', pairs(fAftObs)),
          pts('fbo', pairs(fBefObs)),
          ln('far', pairs(fAftFit), RED, 3.5),
          ln('fabl', pairs(fAftFit), '#1a1aff', 2),
          ln('fbr', pairs(fBefFit), RED, 3.5),
          ln('fbbl', pairs(fBefFit), '#3a7ae6', 2),
        ]}
      </Panel>

      <svg width={1308} height={923} style={{ position: 'absolute', left: 0, top: 0, pointerEvents: 'none' }}>
        {/* axis titles */}
        <text transform="translate(33,233) rotate(-90)" textAnchor="middle" fontSize={28} fontFamily={FONT} fill="#111">Intensity (a.u)</text>
        <text transform="translate(33,653) rotate(-90)" textAnchor="middle" fontSize={28} fontFamily={FONT} fill="#111">Intensity (a.u)</text>
        <T x={246} y={921} s={21} a="middle">Binding energy (eV)</T>
        <T x={702} y={921} s={21} a="middle">Binding energy (eV)</T>
        <T x={1141} y={921} s={21} a="middle">Binding energy (eV)</T>
        {/* panel letters */}
        <T x={25} y={33} s={18}>a)</T>
        <T x={458} y={26} s={18}>b)</T>
        <T x={888} y={32} s={18}>c)</T>
        <T x={25} y={479} s={18}>d)</T>
        <T x={455} y={482} s={18}>e)</T>
        <T x={890} y={482} s={18}>f)</T>

        {/* a labels */}
        <T x={49} y={36} s={22} b>After HER</T>
        <T x={168} y={36} s={19.5} i>Ni 2p{sub('1/2')}</T>
        <T x={267} y={33} s={19.5} i>Ni 2p{sub('3/2')}</T>
        <T x={54} y={69}>Sat.</T>
        <T x={118} y={55} c={MAG}>Ni {sup('2+')}</T>
        <T x={99} y={72} c={MAG}>874.5 eV</T>
        <T x={193} y={66} c={BROWN}>Ni {sup('x+', true)}</T>
        <T x={171} y={85} c={BROWN}>873.4 eV</T>
        <T x={255} y={59}>Sat.</T>
        <T x={355} y={44} c={BLUE}>Ni {sup('2+')}</T>
        <T x={342} y={62} c={BLUE}>856.9 eV</T>
        <T x={388} y={82} c={ORANGE}>Ni {sup('x+', true)}</T>
        <T x={369} y={98} c={ORANGE}>854.6 eV</T>
        <T x={46} y={133} s={22} b>Before HER</T>
        <T x={258} y={135} s={19.5} i>Ni 2p{sub('3/2')}</T>
        <T x={322} y={160} c={BLUE}>Ni {sup('2+')}</T>
        <T x={350} y={205} c={BLUE}>856.9 eV</T>
        <T x={157} y={190} s={19.5} i>Ni 2p{sub('1/2')}</T>
        <T x={124} y={218} c={MAG}>Ni {sup('2+')}</T>
        <T x={110} y={235} c={MAG}>874.5 eV</T>
        <T x={60} y={255}>Sat.</T>
        <T x={252} y={242}>Sat.</T>

        {/* b labels */}
        <T x={483} y={38} s={22} b>After HER</T>
        <T x={728} y={33} s={20} i>Mo 3d{sub('5/2')}</T>
        <T x={678} y={47} c={BLUE}>Mo{sup('6+')}</T>
        <T x={659} y={64} c={BLUE}>233 eV</T>
        <T x={570} y={60} s={20} i>Mo 3d{sub('3/2')}</T>
        <T x={573} y={88} c={MAG}>Mo{sup('6+')}</T>
        <T x={542} y={103} c={MAG}>235.9 eV</T>
        <T x={662} y={91} c={BROWN}>Mo{sup('5+')}</T>
        <T x={639} y={107} c={BROWN}>234.7 eV</T>
        <T x={805} y={92} c={ORANGE}>Mo{sup('5+')}</T>
        <T x={795} y={113} c={ORANGE}>232 eV</T>
        <T x={483} y={208} s={22} b>Before HER</T>
        <T x={695} y={213} s={20} i>Mo 3d{sub('5/2')}</T>
        <T x={587} y={232} s={20} i>Mo 3d{sub('3/2')}</T>
        <T x={573} y={258} c={MAG}>Mo{sup('6+')}</T>
        <T x={554} y={277} c={MAG}>236.2 eV</T>
        <T x={748} y={240} c={BLUE}>Mo{sup('6+')}</T>
        <T x={755} y={262} c={BLUE}>233.1 eV</T>

        {/* c labels */}
        <T x={912} y={41} s={22} b>After HER</T>
        <T x={1004} y={68} s={21} i>O 1s</T>
        <T x={1091} y={56} c={OLIVEL}>O-C=O</T>
        <T x={1092} y={73} c={OLIVEL}>C-O</T>
        <T x={1067} y={91} c={OLIVEL}>532.4 eV</T>
        <T x={1217} y={47} c={GREENL}>C=O</T>
        <T x={1217} y={63} c={GREENL}>O-H</T>
        <T x={1202} y={81} c={GREENL}>531.7 eV</T>
        <T x={1048} y={125} c={BLUE}>-SO{sub('3')}<tspan dx={-7} dy={-12} fontSize={13}>-</tspan></T>
        <T x={1033} y={145} c={BLUE}>533.4 eV</T>
        <T x={922} y={147} c={GOLDL}>-CF{sub('2')}<tspan dy={-4}>-O-CF</tspan>{sub('2')}<tspan dy={-4}>-</tspan></T>
        <T x={956} y={173} c={GOLDL}>535.2 eV</T>
        <T x={1227} y={129} c={ORANGE}>M-oxides</T>
        <T x={1229} y={153} c={ORANGE}>530.6 eV</T>
        <T x={912} y={250} s={22} b>Before HER</T>
        <T x={1042} y={267} s={21} i>O 1s</T>
        <T x={1118} y={263} c={OLIVEL}>O-C=O</T>
        <T x={1118} y={280} c={OLIVEL}>C-O</T>
        <T x={1091} y={298} c={OLIVEL}>532.1 eV</T>
        <T x={1240} y={248} c={GREENL}>C=O</T>
        <T x={1240} y={265} c={GREENL}>O-H</T>
        <T x={1228} y={282} c={GREENL}>531.3 eV</T>
        <T x={1234} y={315} c={ORANGE}>M-oxides</T>
        <T x={1237} y={335} c={ORANGE}>530.6 eV</T>
        <T x={1066} y={328} c={BLUE}>-SO{sub('3')}<tspan dx={-7} dy={-12} fontSize={13}>-</tspan></T>
        <T x={1057} y={353} c={BLUE}>533.2 eV</T>
        <T x={945} y={355} c={GOLDL}>-CF{sub('2')}<tspan dy={-4}>-O-CF</tspan>{sub('2')}<tspan dy={-4}>-</tspan></T>
        <T x={960} y={377} c={GOLDL}>535.6 eV</T>

        {/* d labels */}
        <T x={50} y={492} s={22} b>After HER</T>
        <T x={205} y={486} s={19} i>C1s</T>
        <T x={277} y={479} c={BLUE}>C-O</T>
        <T x={277} y={496} c={BLUE}>C-OH</T>
        <T x={266} y={516} c={BLUE}>286 eV</T>
        <T x={355} y={493} c={GREENL}>C-C</T>
        <T x={355} y={510} c={GREENL}>C-H</T>
        <T x={355} y={527} c={GREENL}>C=C</T>
        <T x={362} y={557} c={GREENL}>284.8 eV</T>
        <T x={271} y={537} c={ORANGE}>-CF</T>
        <T x={271} y={553} c={ORANGE}>C=O</T>
        <T x={246} y={577} c={ORANGE}>286.8 eV</T>
        <T x={83} y={539} c={LAV}>-CF{sub('2')}<tspan dy={-4}>-CF</tspan>{sub('2')}<tspan dy={-4}>-</tspan></T>
        <T x={85} y={567} c={LAV}>292.3 eV</T>
        <T x={173} y={558} c={CYAN}>-OCF{sub('2')}</T>
        <T x={162} y={581} c={CYAN}>290.8 eV</T>
        <T x={83} y={590} c={OLIVEL}>-CF{sub('3')}</T>
        <T x={71} y={611} c={OLIVEL}>293.6 eV</T>
        <T x={223} y={601} c={GOLDL}>O-C=O</T>
        <T x={215} y={618} c={GOLDL}>288.5 eV</T>
        <T x={52} y={679} s={22} b>Before HER</T>
        <T x={202} y={663} s={19} i>C1s</T>
        <T x={274} y={666} c={BLUE}>C-O</T>
        <T x={274} y={683} c={BLUE}>C-OH</T>
        <T x={257} y={706} c={BLUE}>286 eV</T>
        <T x={353} y={685} c={GREENL}>C-C</T>
        <T x={353} y={702} c={GREENL}>C-H</T>
        <T x={353} y={718} c={GREENL}>C=C</T>
        <T x={358} y={749} c={GREENL}>284.8 eV</T>
        <T x={271} y={726} c={ORANGE}>-CF</T>
        <T x={271} y={743} c={ORANGE}>C=O</T>
        <T x={239} y={763} c={ORANGE}>286.8 eV</T>
        <T x={79} y={718} c={LAV}>-CF{sub('2')}<tspan dy={-4}>-CF</tspan>{sub('2')}<tspan dy={-4}>-</tspan></T>
        <T x={82} y={740} c={LAV}>292.3 eV</T>
        <T x={175} y={740} c={CYAN}>-OCF{sub('2')}</T>
        <T x={163} y={760} c={CYAN}>290.8 eV</T>
        <T x={81} y={781} c={OLIVEL}>-CF{sub('3')}</T>
        <T x={68} y={803} c={OLIVEL}>293.6 eV</T>
        <T x={218} y={793} c={GOLDL}>O-C=O</T>
        <T x={206} y={815} c={GOLDL}>288.5 eV</T>

        {/* e labels */}
        <T x={483} y={500} s={22} b>After HER</T>
        <T x={618} y={489} s={21} i>F 1s</T>
        <T x={723} y={485} c={BLUE}>Flourine</T>
        <T x={724} y={510} c={BLUE}>689.4 eV</T>
        <T x={481} y={623} s={22} b>Before HER</T>
        <T x={630} y={618} s={21} i>F 1s</T>
        <T x={708} y={628} c={BLUE}>Flourine</T>
        <T x={713} y={652} c={BLUE}>689.3 eV</T>

        {/* f labels */}
        <T x={1100} y={478} c={BLUE}>Sulfate</T>
        <T x={1100} y={502} c={BLUE}>169.7 eV</T>
        <T x={921} y={511} s={22} b>After HER</T>
        <T x={1045} y={517} s={19} i>S 2p</T>
        <T x={1043} y={765} s={19} i>S 2p</T>
        <T x={1118} y={767} c={BLUE}>Sulfate</T>
        <T x={1118} y={790} c={BLUE}>169.6 eV</T>
        <T x={923} y={800} s={22} b>Before HER</T>
      </svg>
    </div>
  );
}
